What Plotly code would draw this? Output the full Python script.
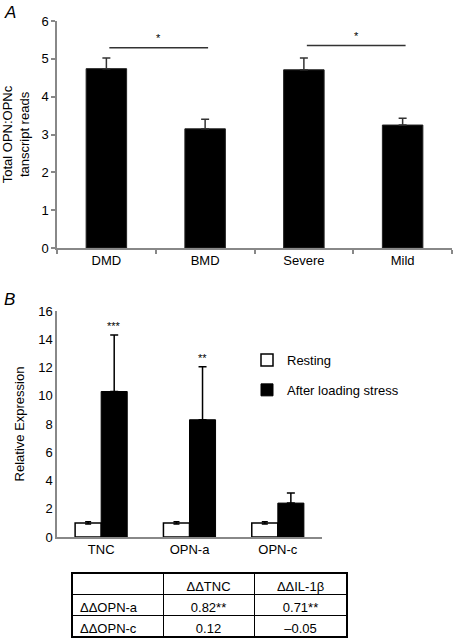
import plotly.graph_objects as go

# ---------------- data ----------------
cats_a = ["DMD", "BMD", "Severe", "Mild"]
vals_a = [4.74, 3.15, 4.71, 3.25]
err_a = [0.28, 0.25, 0.31, 0.18]
sig_pairs_a = [("DMD", "BMD"), ("Severe", "Mild")]
sig_level_a = [5.29, 5.35]
sig_text_a = ["*", "*"]

cats_b = ["TNC", "OPN-a", "OPN-c"]
resting = [1.0, 1.0, 1.0]
resting_err = [0.08, 0.08, 0.08]
stress = [10.3, 8.3, 2.4]
stress_err = [4.0, 3.75, 0.72]
sig_b = ["***", "**", ""]

table_header = ["", "\u0394\u0394TNC", "\u0394\u0394IL-1\u03b2"]
table_rows = ["\u0394\u0394OPN-a", "\u0394\u0394OPN-c"]
table_tnc = ["0.82**", "0.12"]
table_il1b = ["0.71**", "\u20130.05"]

FONT = "Arial, Liberation Sans, Helvetica, sans-serif"
FS = 13
W, H = 455, 640

def px_x(p):
    return p / W

def px_y(p):
    return 1 - p / H

fig = go.Figure()

# Panel A bars
fig.add_trace(go.Bar(
    x=cats_a, y=vals_a, xaxis="x", yaxis="y",
    marker=dict(color="black", line=dict(color="#222", width=1)),
    error_y=dict(type="data", array=err_a, arrayminus=[0] * len(err_a), symmetric=False,
                 color="#333", thickness=1.5, width=4),
    showlegend=False, width=0.41, hoverinfo="skip",
))

# Panel B bars
fig.add_trace(go.Bar(
    x=cats_b, y=resting, xaxis="x2", yaxis="y2", name="Resting",
    marker=dict(color="white", line=dict(color="black", width=1.5)),
    error_y=dict(type="data", array=resting_err, color="black", thickness=1.5, width=3),
    legendgroup="r", hoverinfo="skip",
))
fig.add_trace(go.Bar(
    x=cats_b, y=stress, xaxis="x2", yaxis="y2", name="After loading stress",
    marker=dict(color="black", line=dict(color="black", width=1)),
    error_y=dict(type="data", array=stress_err, arrayminus=[0] * len(stress_err), symmetric=False,
                 color="black", thickness=1.5, width=4),
    legendgroup="s", hoverinfo="skip",
))

# Table
fig.add_trace(go.Table(
    domain=dict(x=[px_x(72), px_x(347)], y=[px_y(637), px_y(573)]),
    columnwidth=[91, 91, 93],
    header=dict(values=table_header, height=21, align=["left", "center", "center"],
                line=dict(color="black", width=1), fill=dict(color="white"),
                font=dict(family=FONT, size=FS, color="black")),
    cells=dict(values=[table_rows, table_tnc, table_il1b], height=21,
               align=["left", "center", "center"],
               line=dict(color="black", width=1), fill=dict(color="white"),
               font=dict(family=FONT, size=FS, color="black")),
))

shapes = []
annotations = []

# significance brackets panel A
for (c0, c1), lvl, txt in zip(sig_pairs_a, sig_level_a, sig_text_a):
    i0, i1 = cats_a.index(c0), cats_a.index(c1)
    shapes.append(dict(type="line", xref="x", yref="y", x0=i0 + 0.03, x1=i1 + 0.03,
                       y0=lvl, y1=lvl, line=dict(color="#333", width=1.5)))
    annotations.append(dict(xref="x", yref="y", x=(i0 + i1) / 2 + 0.03, y=lvl, text=txt,
                            showarrow=False, yanchor="bottom", yshift=2,
                            font=dict(family=FONT, size=11, color="black")))

# significance labels panel B
for i, (v, e, t) in enumerate(zip(stress, stress_err, sig_b)):
    if t:
        annotations.append(dict(xref="x2", yref="y2", x=i + 0.1475, y=v + e, text=t,
                                showarrow=False, yanchor="bottom", yshift=1,
                                font=dict(family=FONT, size=11, color="black")))

# panel letters
annotations.append(dict(xref="paper", yref="paper", x=px_x(2), y=px_y(13), text="<i>A</i>",
                        showarrow=False, xanchor="left", yanchor="middle",
                        font=dict(family=FONT, size=17, color="black")))
annotations.append(dict(xref="paper", yref="paper", x=px_x(2), y=px_y(299), text="<i>B</i>",
                        showarrow=False, xanchor="left", yanchor="middle",
                        font=dict(family=FONT, size=17, color="black")))

# table outer border
shapes.append(dict(type="rect", xref="paper", yref="paper", x0=px_x(72), x1=px_x(347),
                   y0=px_y(637), y1=px_y(573), line=dict(color="black", width=2),
                   layer="above"))

axis_common = dict(showgrid=False, zeroline=False, showline=True, linecolor="#888",
                   linewidth=1.5, automargin=False, fixedrange=True,
                   tickfont=dict(family=FONT, size=FS, color="black"))

fig.update_layout(
    template="none",
    width=W, height=H, margin=dict(l=0, r=0, t=0, b=0, pad=0, autoexpand=False),
    paper_bgcolor="white", plot_bgcolor="white",
    font=dict(family=FONT, size=FS, color="black"),
    barmode="group", bargap=0.41, bargroupgap=0,
    hovermode=False,
    xaxis=dict(domain=[px_x(57), px_x(452)], anchor="y", ticks="outside", ticklen=4,
               tickcolor="#888", tickwidth=1.5, tickson="boundaries", **axis_common),
    yaxis=dict(domain=[px_y(248), px_y(21)], anchor="x", range=[0, 6], dtick=1,
               ticks="outside", ticklen=4, tickcolor="#888", tickwidth=1.5,
               title=dict(text="Total OPN:OPNc<br>tanscript reads",
                          font=dict(family=FONT, size=FS, color="black"), standoff=14),
               **axis_common),
    xaxis2=dict(domain=[px_x(57), px_x(322)], anchor="y2", ticks="", **axis_common),
    yaxis2=dict(domain=[px_y(537), px_y(311)], anchor="x2", range=[0, 16], dtick=2,
                ticks="", title=dict(text="Relative Expression",
                                     font=dict(family=FONT, size=FS, color="black"), standoff=11),
                **axis_common),
    legend=dict(x=px_x(247), y=px_y(345), xanchor="left", yanchor="top",
                font=dict(family=FONT, size=FS, color="black"), tracegroupgap=10,
                traceorder="grouped", bgcolor="rgba(0,0,0,0)"),
    shapes=shapes, annotations=annotations,
)

fig.write_html("out.html", config={"displayModeBar": False, "staticPlot": False},
               post_script="document.body.style.margin='0px';")
